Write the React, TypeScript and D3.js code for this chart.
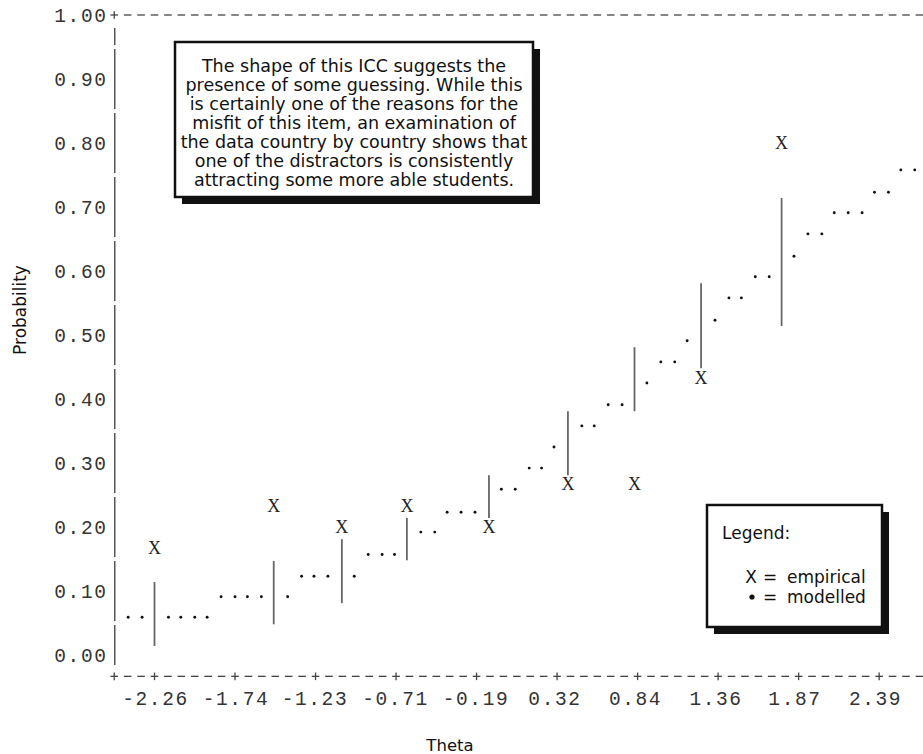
import React from 'react';
import * as d3 from 'd3';

// ---- Data ----
const thetaTicks = [-2.26, -1.74, -1.23, -0.71, -0.19, 0.32, 0.84, 1.36, 1.87, 2.39];
const probTicks = [0, 0.1, 0.2, 0.3, 0.4, 0.5, 0.6, 0.7, 0.8, 0.9, 1.0];

const empiricalTheta = [-2.26, -1.49, -1.05, -0.63, -0.1, 0.41, 0.84, 1.27, 1.79];
const empiricalProb = [0.167, 0.233, 0.2, 0.233, 0.2, 0.267, 0.267, 0.433, 0.8];
const ciLower = [0.014, 0.048, 0.081, 0.148, 0.214, 0.281, 0.381, 0.448, 0.514];
const ciUpper = [0.114, 0.147, 0.181, 0.214, 0.281, 0.381, 0.481, 0.581, 0.714];

const modelledTheta = [
  -2.43, -2.34, -2.17, -2.09, -2.0, -1.92,
  -1.83, -1.74, -1.66, -1.57, -1.4,
  -1.31, -1.23, -1.14, -0.97,
  -0.88, -0.79, -0.71,
  -0.54, -0.45,
  -0.37, -0.28, -0.19,
  -0.02, 0.07,
  0.16, 0.24,
  0.32,
  0.5, 0.58,
  0.67, 0.76,
  0.92,
  1.01, 1.1,
  1.18,
  1.36,
  1.45, 1.53,
  1.62, 1.71,
  1.87,
  1.96, 2.05,
  2.13, 2.22, 2.31,
  2.39, 2.48,
  2.56, 2.65,
];
const modelledProb = [
  0.059, 0.059, 0.059, 0.059, 0.059, 0.059,
  0.091, 0.091, 0.091, 0.091, 0.091,
  0.123, 0.123, 0.123, 0.123,
  0.157, 0.157, 0.157,
  0.192, 0.192,
  0.223, 0.223, 0.223,
  0.259, 0.259,
  0.292, 0.292,
  0.325,
  0.358, 0.358,
  0.391, 0.391,
  0.425,
  0.458, 0.458,
  0.491,
  0.523,
  0.558, 0.558,
  0.591, 0.591,
  0.623,
  0.658, 0.658,
  0.691, 0.691, 0.691,
  0.723, 0.723,
  0.758, 0.758,
];

const noteLines = [
  'The shape of this ICC suggests the',
  'presence of some guessing. While this',
  'is certainly one of the reasons for the',
  'misfit of this item, an examination of',
  'the data country by country shows that',
  'one of the distractors is consistently',
  'attracting some more able students.',
];

const W = 923;
const H = 754;
const MONO = "'Liberation Mono', 'DejaVu Sans Mono', monospace";
const SANS = "'DejaVu Sans', 'Noto Sans', sans-serif";

export default function App() {
  const x = d3.scaleLinear().domain([thetaTicks[0], thetaTicks[thetaTicks.length - 1]]).range([154.5, 874.5]);
  const y = d3.scaleLinear().domain([0, 1]).range([655, 15]);
  const col = (x(thetaTicks[1]) - x(thetaTicks[0])) / 6;
  const rowH = (y(0) - y(1)) / 30;
  const axisX = x(thetaTicks[0]) - 3 * col;
  const xAxisY = y(0) + rowH;

  const cols: number[] = [];
  for (let k = 1; axisX + k * col < W - 2; k++) cols.push(k);

  const plus = (cx: number, cy: number, key: string) => (
    <g key={key} stroke="#444" strokeWidth={1.3}>
      <line x1={cx - 3.8} x2={cx + 3.8} y1={cy} y2={cy} />
      <line x1={cx} x2={cx} y1={cy - 3.8} y2={cy + 3.8} />
    </g>
  );
  const dash = (cx: number, cy: number, key: string) => (
    <line key={key} x1={cx - 3.8} x2={cx + 3.8} y1={cy} y2={cy} stroke="#444" strokeWidth={1.3} />
  );

  const noteBox = { x: 175, y: 42, w: 358, h: 155 };
  const legBox = { x: 707, y: 505, w: 175, h: 122 };
  const shadow = 7;

  return (
    <svg
      width={W}
      height={H}
      viewBox={`0 0 ${W} ${H}`}
      style={{ position: 'absolute', left: 0, top: 0, background: '#fff' }}
    >
      <rect x={0} y={0} width={W} height={H} fill="#fff" />

      {/* top dashed border: 1.00+------ */}
      {plus(axisX, y(1), 'tp')}
      {cols.map((k) => dash(axisX + k * col, y(1), 'td' + k))}

      {/* vertical axis made of | characters */}
      <line
        x1={axisX + 0.5}
        x2={axisX + 0.5}
        y1={y(1) + 13}
        y2={y(0) + 10}
        stroke="#555"
        strokeWidth={1.5}
        strokeDasharray="60 4"
        strokeDashoffset={43}
      />

      {/* x axis: +--+-----+ */}
      {plus(axisX, xAxisY, 'bp')}
      {cols.map((k) =>
        (k - 3) % 6 === 0 ? plus(axisX + k * col, xAxisY, 'bp' + k) : dash(axisX + k * col, xAxisY, 'bd' + k)
      )}

      {/* y tick labels */}
      {probTicks.map((p) => (
        <text
          key={'yl' + p}
          x={axisX - col / 2}
          y={y(p) + 6.5}
          textAnchor="end"
          fontFamily={MONO}
          fontSize={19.5}
          letterSpacing={1.6}
          fill="#333"
        >
          {p.toFixed(2)}
        </text>
      ))}

      {/* x tick labels */}
      {thetaTicks.map((t) => (
        <text
          key={'xl' + t}
          x={x(t) + 1}
          y={xAxisY + 29}
          textAnchor="middle"
          fontFamily={MONO}
          fontSize={19.5}
          letterSpacing={1.6}
          fill="#333"
        >
          {t.toFixed(2)}
        </text>
      ))}

      {/* error bars */}
      {empiricalTheta.map((t, i) => (
        <line
          key={'eb' + i}
          x1={x(t)}
          x2={x(t)}
          y1={y(ciLower[i])}
          y2={y(ciUpper[i])}
          stroke="#666"
          strokeWidth={1.8}
        />
      ))}

      {/* modelled dots */}
      {modelledTheta.map((t, i) => (
        <circle key={'md' + i} cx={x(t)} cy={y(modelledProb[i])} r={1.45} fill="#111" />
      ))}

      {/* empirical X */}
      {empiricalTheta.map((t, i) => (
        <text
          key={'ex' + i}
          x={x(t)}
          y={y(empiricalProb[i]) + 6.3}
          textAnchor="middle"
          fontFamily="'Liberation Serif', 'DejaVu Serif', serif"
          fontSize={18}
          fill="#222"
        >
          X
        </text>
      ))}

      {/* annotation box */}
      <rect x={noteBox.x + shadow} y={noteBox.y + shadow} width={noteBox.w} height={noteBox.h} fill="#111" />
      <rect x={noteBox.x} y={noteBox.y} width={noteBox.w} height={noteBox.h} fill="#fff" stroke="#111" strokeWidth={2.5} />
      {noteLines.map((l, i) => (
        <text
          key={'nl' + i}
          x={noteBox.x + noteBox.w / 2}
          y={72 + i * 19}
          textAnchor="middle"
          fontFamily={SANS}
          fontSize={17.5}
          fill="#111"
        >
          {l}
        </text>
      ))}

      {/* legend box */}
      <rect x={legBox.x + shadow} y={legBox.y + shadow} width={legBox.w} height={legBox.h} fill="#111" />
      <rect x={legBox.x} y={legBox.y} width={legBox.w} height={legBox.h} fill="#fff" stroke="#111" strokeWidth={2.5} />
      <text x={722} y={539} fontFamily={SANS} fontSize={17} fill="#111">Legend:</text>
      <text x={751} y={583} textAnchor="middle" fontFamily={SANS} fontSize={17} fill="#111">X</text>
      <text x={770} y={583} textAnchor="middle" fontFamily={SANS} fontSize={17} fill="#111">=</text>
      <text x={787} y={583} fontFamily={SANS} fontSize={17} fill="#111">empirical</text>
      <circle cx={752} cy={597} r={2.6} fill="#111" />
      <text x={770} y={603} textAnchor="middle" fontFamily={SANS} fontSize={17} fill="#111">=</text>
      <text x={787} y={603} fontFamily={SANS} fontSize={17} fill="#111">modelled</text>

      {/* axis titles */}
      <text
        transform={`translate(26, 310) rotate(-90)`}
        textAnchor="middle"
        fontFamily={SANS}
        fontSize={17}
        fill="#111"
      >
        Probability
      </text>
      <text x={450} y={751} textAnchor="middle" fontFamily={SANS} fontSize={16.5} fill="#111">
        Theta
      </text>
    </svg>
  );
}
